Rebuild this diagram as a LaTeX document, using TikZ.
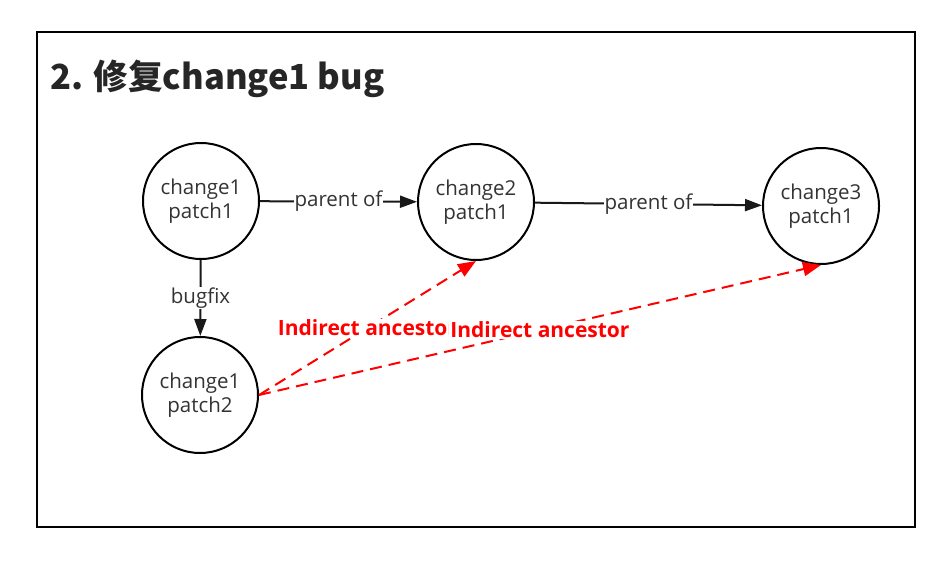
\documentclass[tikz,border=0pt]{standalone}
\usepackage{fontspec}
\setmainfont{Open Sans}
\newfontfamily\cjk{Noto Sans CJK SC}
\usetikzlibrary{arrows.meta}
\definecolor{txt}{HTML}{333333}
\definecolor{anc}{HTML}{FF0000}

\begin{document}
\begin{tikzpicture}[x=1pt, y=-1pt, align=center, line width=2pt,
  font=\fontsize{20.5}{24}\selectfont,
  change/.style={circle, draw, minimum size=116pt, inner sep=0pt, text=txt},
  link/.style={-{Triangle[length=17pt, width=12pt]}, draw=black!90},
  indirect/.style={-{Triangle[length=18pt, width=14pt]}, draw=anc, dash pattern=on 12pt off 7pt},
  lbl/.style={fill=white, inner sep=1pt, text=txt},
  anclbl/.style={fill=white, inner sep=1pt, text=anc, font=\fontsize{21}{24}\selectfont\bfseries}]
\useasboundingbox (0,0) rectangle (952,564);
\draw[line width=2pt] (37,32) rectangle (915,527);
\node[anchor=west, text=black!85, font=\cjk\bfseries\fontsize{34.5}{40}\selectfont] (t) at (46,79) {2. 修复change1 bug};

\node[change] (1) at (201,201) {change1\\patch1};
\node[change] (2) at (476,202) {change2\\patch1};
\node[change] (3) at (821,206) {change3\\patch1};
\node[change] (4) at (200,395) {change1\\patch2};

\path (1) edge[link] node[lbl] {parent of} (2)
      (2) edge[link] node[lbl] {parent of} (3)
      (1) edge[link] node[lbl] {bugfix} (4);
\path (4.east) edge[indirect] node[anclbl] {Indirect ancestor} (2.south)
      (4.east) edge[indirect] node[anclbl] {Indirect ancestor} (3.south);
\end{tikzpicture}
\end{document}
